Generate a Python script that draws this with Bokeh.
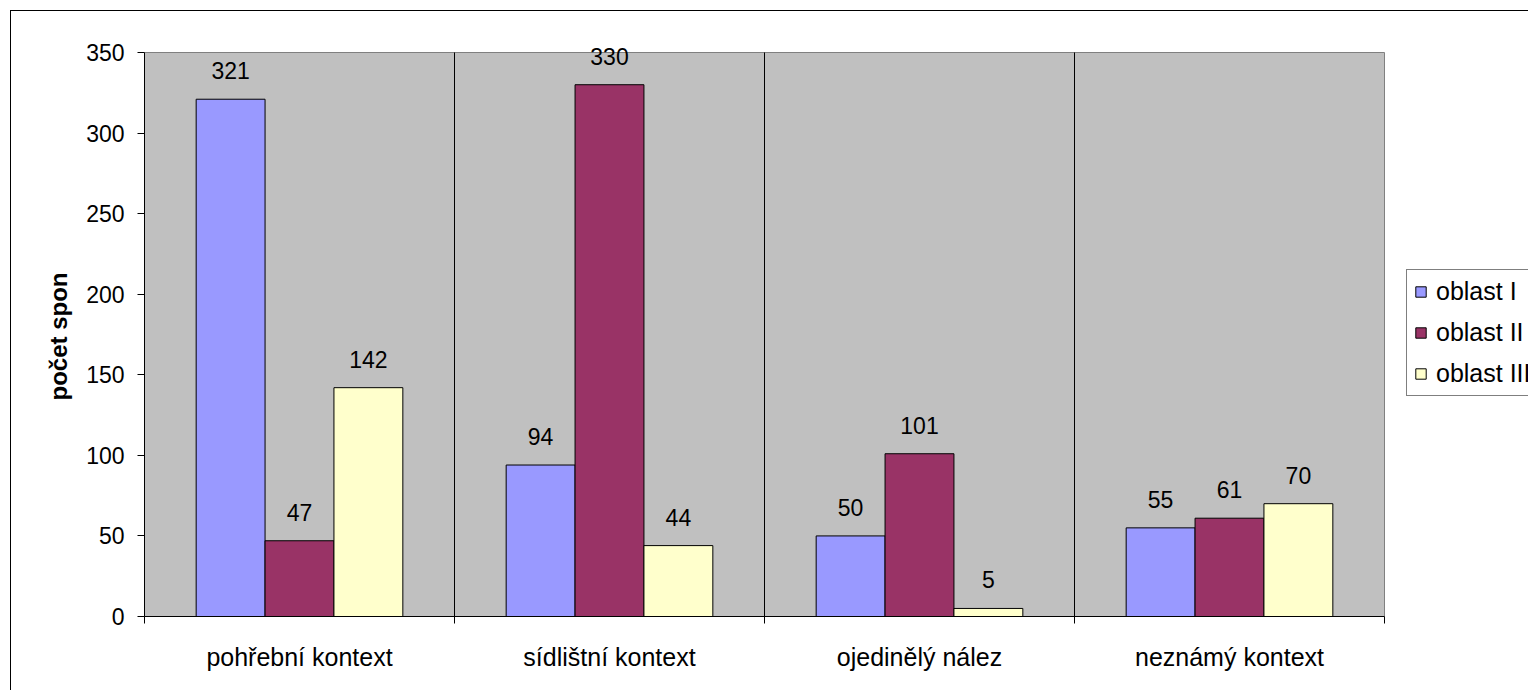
from bokeh.plotting import figure
from bokeh.models import (Range1d, FixedTicker, ColumnDataSource, LabelSet, Legend, LegendItem, Title)
from bokeh.core.properties import value
from bokeh.embed import file_html
from bokeh.resources import INLINE

# ---- data ----
categories = ["pohřební kontext", "sídlištní kontext", "ojedinělý nález", "neznámý kontext"]
series_names = ["oblast I", "oblast II", "oblast III"]
oblast_I = [321, 94, 50, 55]
oblast_II = [47, 330, 101, 61]
oblast_III = [142, 44, 5, 70]
y_ticks = [0, 50, 100, 150, 200, 250, 300, 350]
y_title = "počet spon"

series_values = [oblast_I, oblast_II, oblast_III]
colors = ["#9999FF", "#993366", "#FFFFCC"]
FONT = "Liberation Sans"

# ---- layout (pixels) ----
W, H = 1528, 690
LEFT, FRAME_TOP, BOTTOM = 144, 24, 616
PLOT_TOP, PLOT_RIGHT = 52, 1384  # edges of the grey plot area
n_cat = len(categories)
y_max = y_ticks[-1]
x_end = n_cat * (W - LEFT) / (PLOT_RIGHT - LEFT)
y_end = y_max * (BOTTOM - FRAME_TOP) / (BOTTOM - PLOT_TOP)

p = figure(width=W, height=H, output_backend="svg", toolbar_location=None,
           x_range=Range1d(0, x_end), y_range=Range1d(0, y_end),
           min_border_left=LEFT, min_border_right=0, min_border_top=FRAME_TOP,
           min_border_bottom=H - BOTTOM)
p.border_fill_color = None
p.background_fill_color = None
p.outline_line_color = None
p.styles = {
    "background": "linear-gradient(#000,#000) 10px 10px / 1px 100% no-repeat, "
                  "linear-gradient(#000,#000) 10px 10px / 100% 1px no-repeat, #ffffff"
}

# grey plot area
p.quad(left=0, right=n_cat, bottom=0, top=y_max, fill_color="#C0C0C0",
       line_color="#808080", line_width=1, level="image")

# separators between categories
seps = list(range(1, n_cat))
p.segment(x0=seps, y0=[0] * len(seps), x1=seps, y1=[y_max] * len(seps),
          line_color="black", line_width=1)

n_series = len(series_names)
bar_w = 1.0 / (n_series + 1.5)
legend_items = []
for j, (name, vals, col) in enumerate(zip(series_names, series_values, colors)):
    xs = [i + 0.5 + (j - 1) * bar_w for i in range(n_cat)]
    src = ColumnDataSource(dict(x=xs, top=vals, label=[str(v) for v in vals]))
    r = p.vbar(x="x", top="top", bottom=0, width=bar_w, source=src,
               fill_color=col, line_color="black", line_width=1)
    legend_items.append(LegendItem(label=name, renderers=[r]))
    p.add_layout(LabelSet(x="x", y="top", text="label", source=src, y_offset=20,
                          text_align="center", text_baseline="alphabetic",
                          text_font=value(FONT), text_font_size="23px", text_color="black"))

p.xgrid.grid_line_color = None
p.ygrid.grid_line_color = None

# x axis
xa = p.xaxis[0]
xa.bounds = (0, n_cat)
xa.ticker = FixedTicker(ticks=[i + 0.5 for i in range(n_cat)],
                        minor_ticks=list(range(n_cat + 1)))
xa.major_label_overrides = {i + 0.5: c for i, c in enumerate(categories)}
xa.major_tick_out = 0
xa.major_tick_in = 0
xa.minor_tick_out = 7
xa.minor_tick_in = 0
xa.minor_tick_line_color = "black"
xa.axis_line_color = "black"
xa.major_label_text_font = FONT
xa.major_label_text_font_size = "25px"
xa.major_label_text_color = "black"
xa.major_label_standoff = 19

# y axis
ya = p.yaxis[0]
ya.bounds = (0, y_max)
ya.ticker = FixedTicker(ticks=y_ticks, minor_ticks=[])
ya.major_tick_out = 7
ya.major_tick_in = 0
ya.major_tick_line_color = "black"
ya.axis_line_color = "black"
ya.major_label_text_font = FONT
ya.major_label_text_font_size = "23px"
ya.major_label_text_color = "black"
ya.major_label_standoff = 13

# y axis title (side title, shifted up from the bottom so it is centred on the grey area)
t = Title(text=y_title, align="left", text_font=FONT, text_font_size="24px",
          text_font_style="bold", text_color="black", standoff=23,
          offset=216)
p.add_layout(t, "left")

legend = Legend(items=legend_items, location=(1406 - LEFT, BOTTOM - 396))
legend.border_line_color = "black"
legend.border_line_width = 1
legend.background_fill_color = "white"
legend.background_fill_alpha = 1
legend.label_text_font = FONT
legend.label_text_font_size = "25px"
legend.label_text_color = "black"
legend.glyph_width = 13
legend.glyph_height = 13
legend.label_standoff = 9
legend.padding = 7
legend.spacing = 12
legend.margin = 0
p.add_layout(legend, "center")

open("out.html", "w").write(file_html(p, INLINE))
